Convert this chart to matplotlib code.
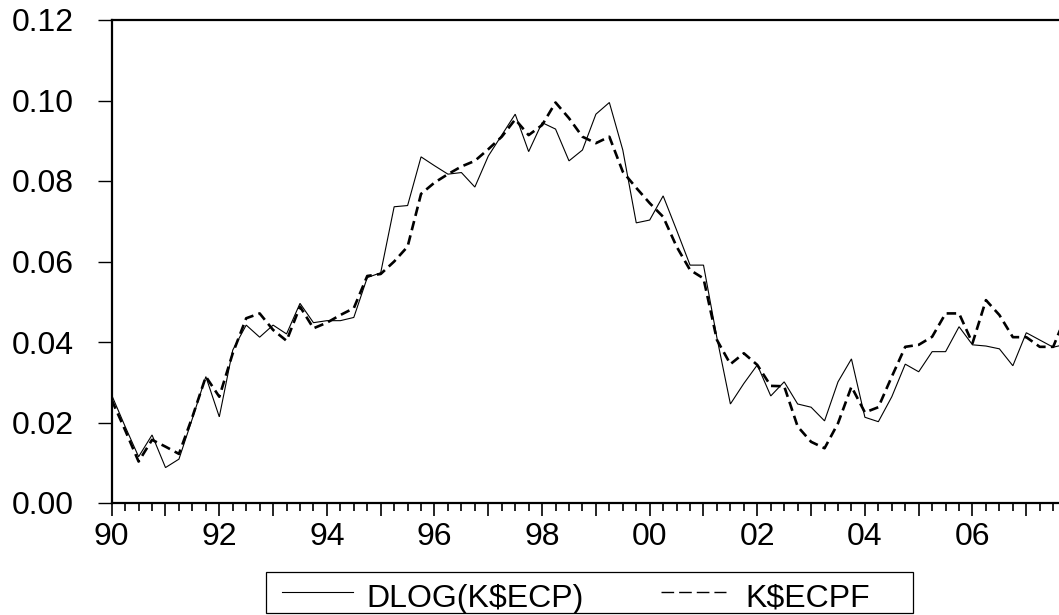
import numpy as np
import matplotlib
matplotlib.use("Agg")
import matplotlib.pyplot as plt
from matplotlib.lines import Line2D
from matplotlib.patches import Rectangle
from matplotlib.ticker import FixedLocator, MultipleLocator, FuncFormatter

plt.rcParams['font.family'] = ['Liberation Sans', 'DejaVu Sans']

# quarterly data, 1990Q1 .. 2007Q4
start_year = 1990
dlog_kecp = [0.0268, 0.0190, 0.0115, 0.0169, 0.0088, 0.0109, 0.0210, 0.0314,
             0.0214, 0.0380, 0.0442, 0.0412, 0.0442, 0.0420, 0.0496, 0.0448,
             0.0453, 0.0453, 0.0461, 0.0560, 0.0572, 0.0736, 0.0739, 0.0860,
             0.0838, 0.0817, 0.0821, 0.0785, 0.0862, 0.0914, 0.0966, 0.0873,
             0.0945, 0.0929, 0.0850, 0.0877, 0.0966, 0.0995, 0.0877, 0.0696,
             0.0703, 0.0763, 0.0678, 0.0591, 0.0591, 0.0410, 0.0246, 0.0297,
             0.0343, 0.0266, 0.0301, 0.0246, 0.0238, 0.0204, 0.0301, 0.0358,
             0.0213, 0.0202, 0.0264, 0.0345, 0.0326, 0.0376, 0.0376, 0.0438,
             0.0393, 0.0390, 0.0383, 0.0341, 0.0423, 0.0405, 0.0387, 0.0395]
kecpf = [0.0256, 0.0181, 0.0103, 0.0157, 0.0140, 0.0122, 0.0214, 0.0314,
         0.0264, 0.0372, 0.0459, 0.0471, 0.0430, 0.0403, 0.0488, 0.0434,
         0.0448, 0.0467, 0.0484, 0.0564, 0.0569, 0.0600, 0.0637, 0.0768,
         0.0796, 0.0817, 0.0836, 0.0850, 0.0879, 0.0910, 0.0953, 0.0914,
         0.0939, 0.0995, 0.0956, 0.0910, 0.0894, 0.0910, 0.0823, 0.0783,
         0.0745, 0.0711, 0.0637, 0.0579, 0.0558, 0.0405, 0.0345, 0.0372,
         0.0343, 0.0291, 0.0290, 0.0190, 0.0152, 0.0136, 0.0198, 0.0289,
         0.0225, 0.0238, 0.0314, 0.0388, 0.0393, 0.0413, 0.0471, 0.0471,
         0.0397, 0.0504, 0.0467, 0.0412, 0.0412, 0.0388, 0.0388, 0.0470]
legend_labels = ['DLOG(K$ECP)', 'K$ECPF']

t = start_year + 0.25 * np.arange(len(dlog_kecp))

W, H = 1059, 615
FS = 23
fig = plt.figure(figsize=(W / 100, H / 100), dpi=100)

def fx(x):
    return x / W

def fy(y):
    return 1 - y / H

# axes box runs past the right edge of the picture, like the original
left, top, bottom = 111.7, 20, 503
xmin, xmax = 1990, 2007.75
width = (xmax - xmin) * 53.8
ax = fig.add_axes([fx(left), fy(bottom), width / W, (bottom - top) / H])

ax.plot(t, dlog_kecp, color='black', lw=0.8, solid_joinstyle='miter')
ax.plot(t, kecpf, color='black', lw=1.9, ls=(0, (3.6, 2.0)))

ax.set_xlim(xmin, xmax)
ax.set_ylim(0, 0.12)

ax.yaxis.set_major_locator(MultipleLocator(0.02))
ax.yaxis.set_major_formatter(FuncFormatter(lambda v, p: f"{v:.2f}"))
ax.xaxis.set_major_locator(FixedLocator(np.arange(1990, 2008)))
ax.xaxis.set_minor_locator(MultipleLocator(0.25))
ax.xaxis.set_major_formatter(
    FuncFormatter(lambda v, p: f"{int(round(v)) % 100:02d}" if int(round(v)) % 2 == 0 else ""))

ax.tick_params(axis='y', direction='out', length=10, width=1, pad=17, labelsize=FS)
ax.tick_params(axis='x', which='major', direction='out', length=9.4, width=1.2, pad=4, labelsize=FS)
ax.tick_params(axis='x', which='minor', direction='out', length=5.4, width=1.2)

for side in ['left', 'bottom', 'top']:
    ax.spines[side].set_linewidth(1.6)
ax.spines['right'].set_visible(False)

# legend box below the plot
fig.add_artist(Rectangle((fx(266), fy(613.3)), (912.7 - 266) / W, (613.3 - 572.3) / H,
                         transform=fig.transFigure, fill=False, ec='black', lw=0.9))
fig.add_artist(Line2D([fx(281.7), fx(353.3)], [fy(592.3), fy(592.3)],
                      transform=fig.transFigure, color='black', lw=0.8))
fig.add_artist(Line2D([fx(660.7), fx(726)], [fy(592.3), fy(592.3)],
                      transform=fig.transFigure, color='black', lw=1.0, ls=(0, (9.1, 3.6))))
fig.text(fx(366.5), fy(606.7), legend_labels[0], fontsize=FS, va='baseline', ha='left')
fig.text(fx(745), fy(606.7), legend_labels[1], fontsize=FS, va='baseline', ha='left')

fig.savefig('out.png', dpi=100)
